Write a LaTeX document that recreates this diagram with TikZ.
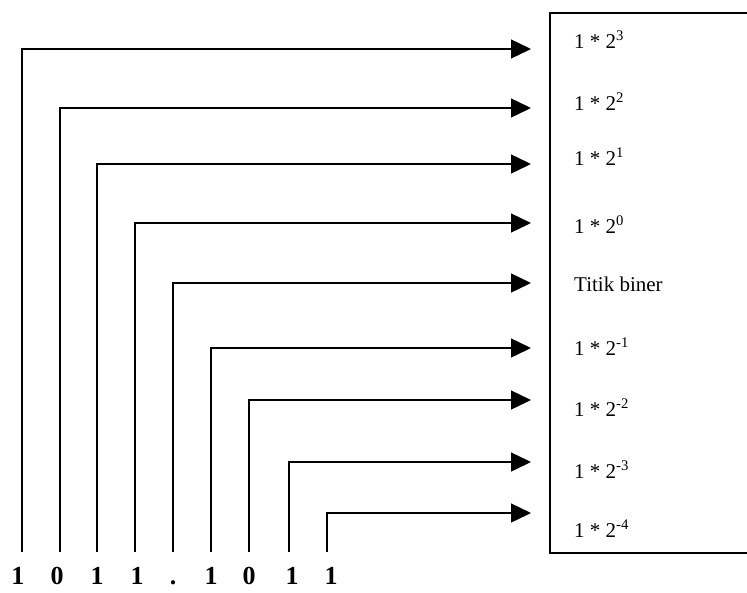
\documentclass[tikz,border=0pt]{standalone}
\usepackage{fontspec}
\setmainfont{Liberation Serif}
\usetikzlibrary{arrows.meta}
\begin{document}
\begin{tikzpicture}[x=1pt,y=-1pt,
  conn/.style={line width=1.4pt,-{Triangle[length=20pt,width=19pt]}},
  lbl/.style={anchor=base west,inner sep=0pt,font=\fontsize{21}{25}\selectfont},
  bit/.style={anchor=base,inner sep=0pt,font=\fontsize{26}{30}\selectfont\bfseries}]
\useasboundingbox (0,0) rectangle (747,592);
\clip (0,0) rectangle (747,592);
\fill[white] (0,0) rectangle (747,592);
% box
\draw[line width=2pt] (770,13) -- (550,13) -- (550,553) -- (770,553);
% labels
\node[lbl] (l1) at (574,48) {1 * 2\textsuperscript{3}};
\node[lbl] (l2) at (574,110) {1 * 2\textsuperscript{2}};
\node[lbl] (l3) at (574,165) {1 * 2\textsuperscript{1}};
\node[lbl] (l4) at (574,233) {1 * 2\textsuperscript{0}};
\node[lbl] (l5) at (574,291) {Titik biner};
\node[lbl] (l6) at (574,355) {1 * 2\textsuperscript{-1}};
\node[lbl] (l7) at (574,416) {1 * 2\textsuperscript{-2}};
\node[lbl] (l8) at (574,478) {1 * 2\textsuperscript{-3}};
\node[lbl] (l9) at (574,537) {1 * 2\textsuperscript{-4}};
% bits
\node[bit] (b1) at (18,584) {1};
\node[bit] (b2) at (57,584) {0};
\node[bit] (b3) at (97,584) {1};
\node[bit] (b4) at (137,584) {1};
\node[bit] (b5) at (173,584) {.};
\node[bit] (b6) at (211,584) {1};
\node[bit] (b7) at (249,584) {0};
\node[bit] (b8) at (292,584) {1};
\node[bit] (b9) at (331,584) {1};
% connectors
\foreach \i/\x/\y in {1/22/49,2/60/108,3/97/164,4/135/223,5/173/283,6/211/348,7/249/400,8/289/462,9/327/513}{
  \coordinate (s\i) at (\x,552);
  \coordinate (t\i) at (531,\y);
  \draw[conn] (s\i) |- (t\i);
}
\end{tikzpicture}
\end{document}
